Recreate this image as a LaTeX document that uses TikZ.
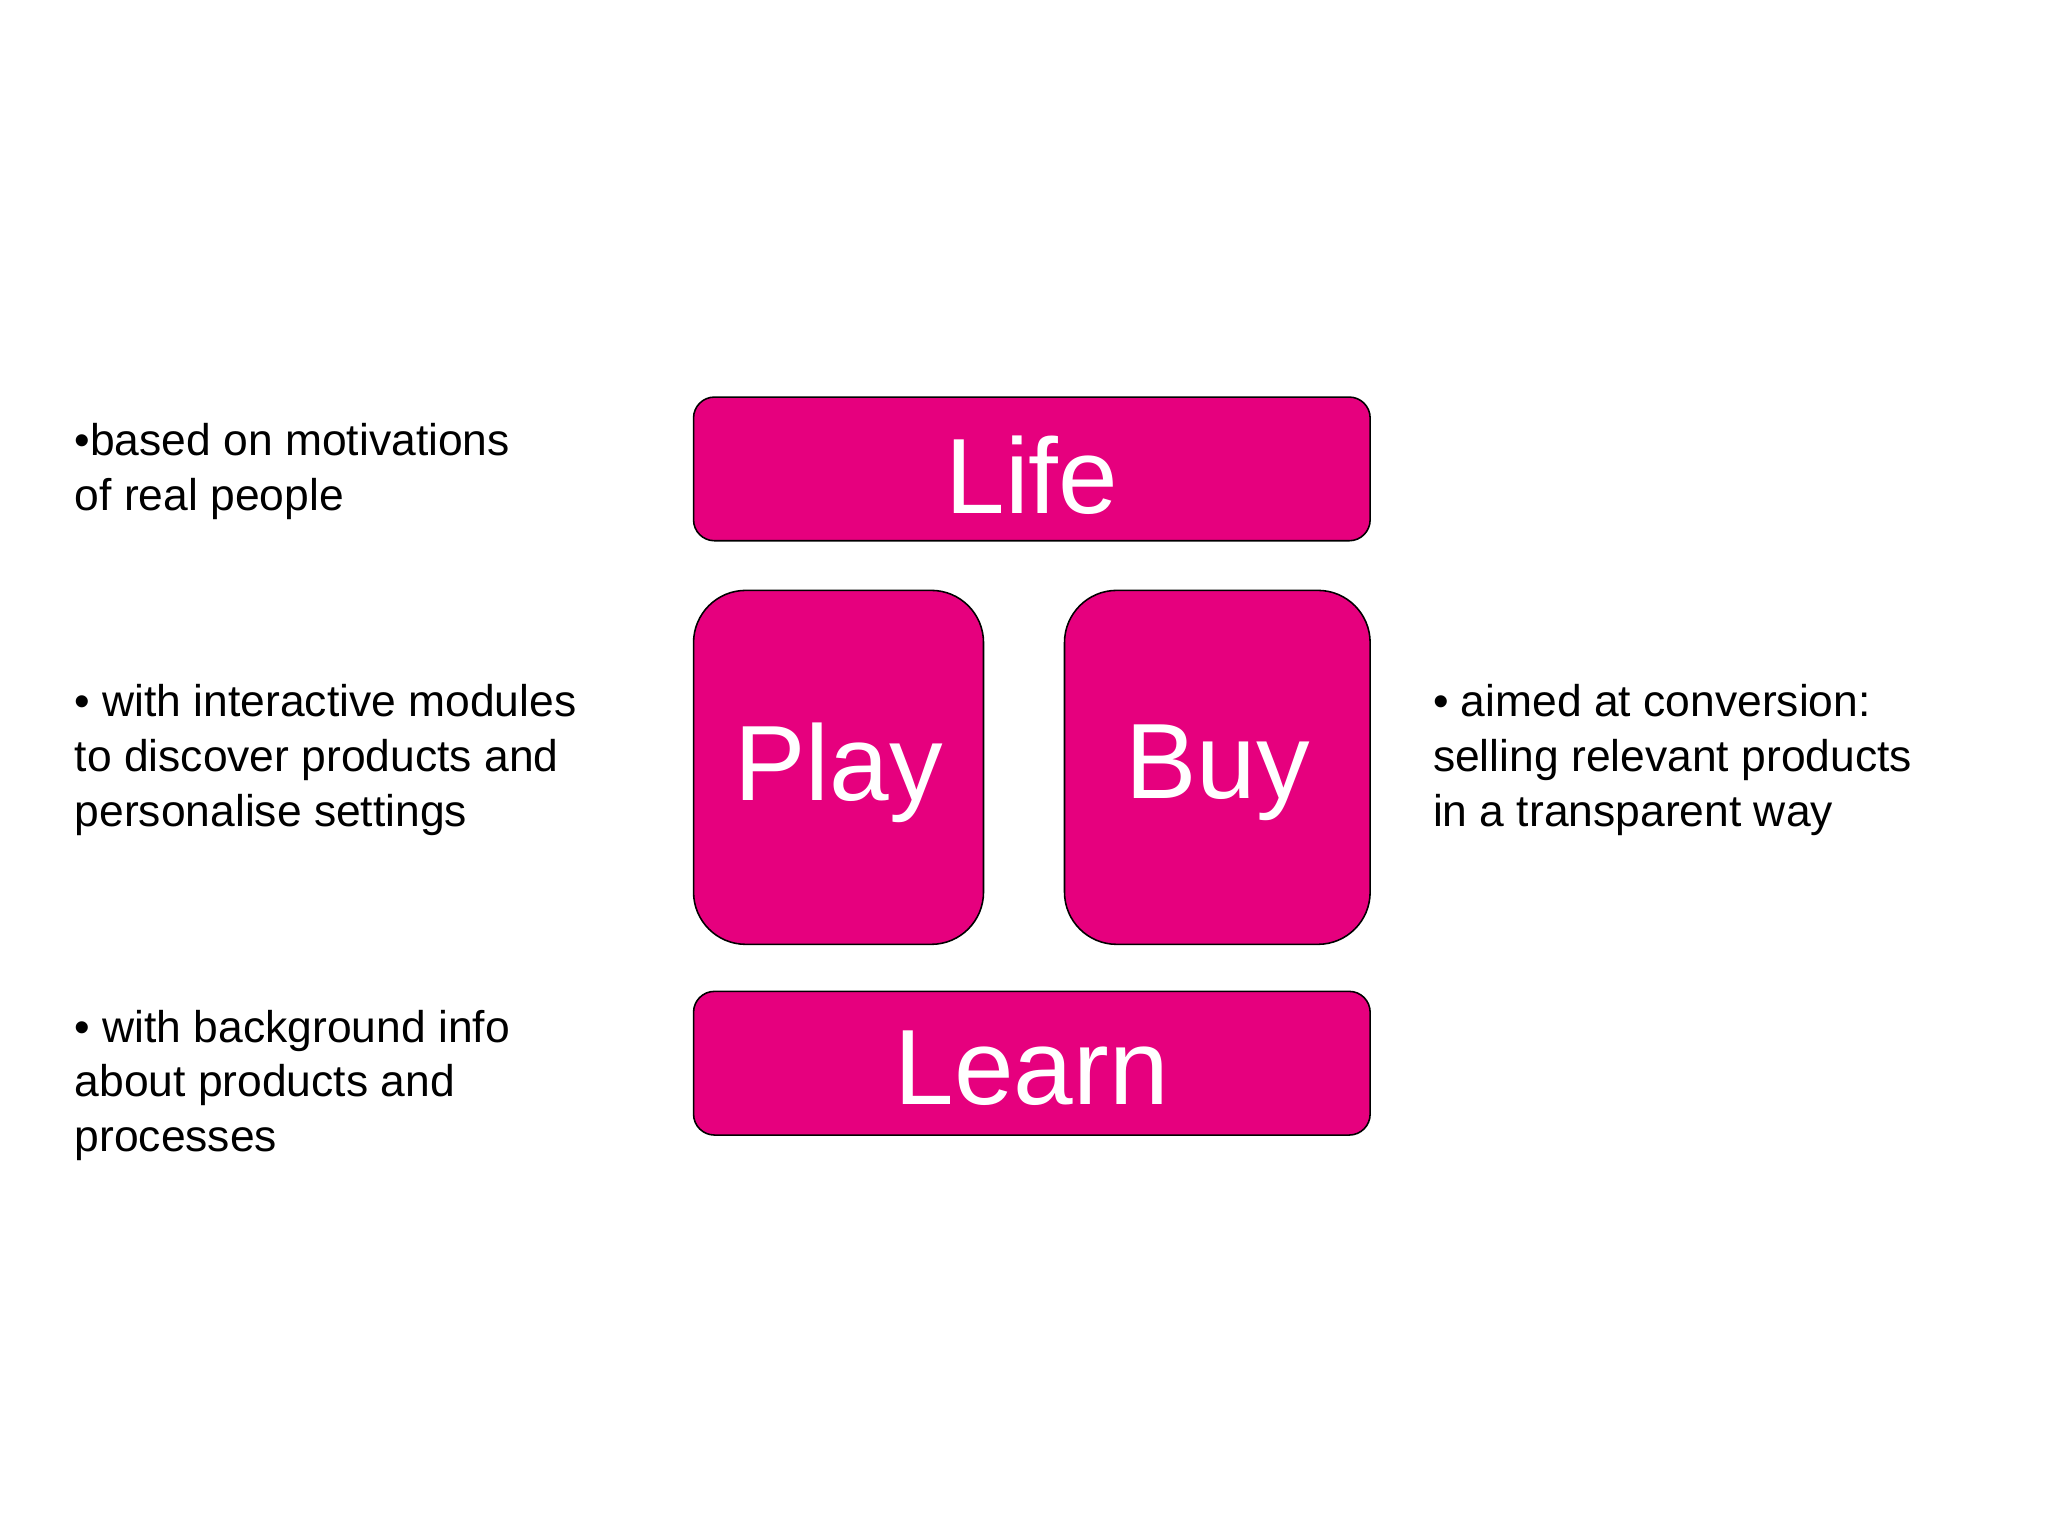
\documentclass[tikz,border=0pt]{standalone}
\usepackage{fontspec}
\setmainfont{Liberation Sans}
\definecolor{mag}{HTML}{E6007E}
\begin{document}
\begin{tikzpicture}[x=1pt,y=-1pt,
 box/.style={draw=black,line width=1.2pt,fill=mag},
 lbl/.style={text=white,font=\fontsize{82}{90}\selectfont},
 txt/.style={anchor=north west,inner sep=0pt,align=left,font=\fontsize{34}{42}\selectfont}]
\useasboundingbox (0,0) rectangle (1568,1176);
\draw[box,rounded corners=16] (531,304) rectangle (1049,414);
\draw[box,rounded corners=40] (531,452) rectangle (753,723);
\draw[box,rounded corners=40] (815,452) rectangle (1049,723);
\draw[box,rounded corners=16] (531,759) rectangle (1049,869);
\node[lbl] (life) at (790,364) {Life};
\node[lbl] (play) at (642,592) {Play};
\node[lbl] (buy) at (932,592) {Buy};
\node[lbl] (learn) at (790,818) {Learn};
\node[txt] (t1) at (57,324) {•based on motivations\\of real people};
\node[txt] (t2) at (57,524) {• with interactive modules\\to discover products and\\personalise settings};
\node[txt] (t3) at (57,773) {• with background info\\about products and\\processes};
\node[txt] (t4) at (1097,524) {• aimed at conversion:\\selling relevant products\\in a transparent way};
\end{tikzpicture}
\end{document}
